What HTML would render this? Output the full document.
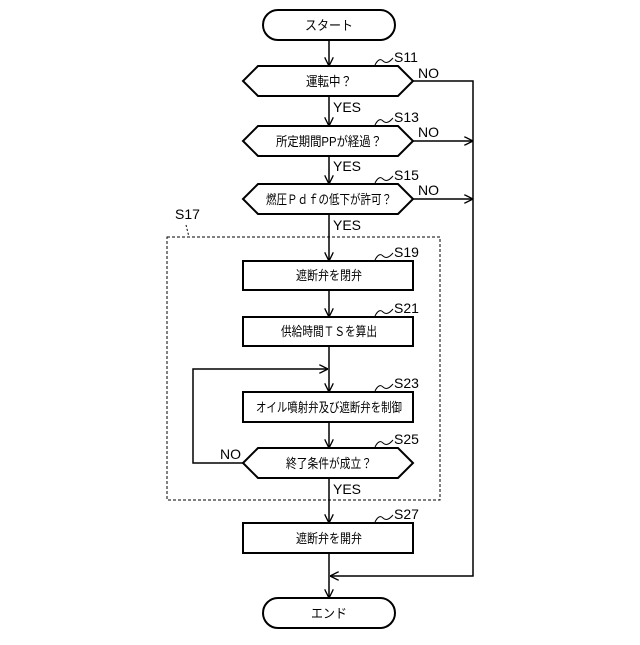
<!DOCTYPE html>
<html><head><meta charset="utf-8"><style>html,body{margin:0;padding:0;background:#fff}</style></head>
<body>
<svg width="640" height="640" viewBox="0 0 640 640" xmlns="http://www.w3.org/2000/svg" font-family="'Liberation Sans','Noto Sans CJK JP',sans-serif">
<defs>
<marker id="a" viewBox="0 0 10 10" refX="10" refY="5" markerWidth="9" markerHeight="9" markerUnits="userSpaceOnUse" orient="auto"><path d="M0,0 L10,5 L0,10" fill="none" stroke="#000" stroke-width="1.5"/></marker>
</defs>
<g stroke="#000" stroke-width="2" fill="none">
<rect x="263" y="10" width="132" height="30" rx="15"/>
<rect x="263" y="598" width="132" height="30" rx="15"/>
<path d="M258,66 H398 L413,81 L398,96 H258 L243,81 Z"/>
<path d="M258,126 H398 L413,141 L398,156 H258 L243,141 Z"/>
<path d="M258,184 H398 L413,199 L398,214 H258 L243,199 Z"/>
<path d="M258,448 H398 L413,463 L398,478 H258 L243,463 Z"/>
<rect x="243" y="261" width="170" height="29"/>
<rect x="243" y="317" width="170" height="29"/>
<rect x="243" y="392" width="170" height="30"/>
<rect x="243" y="523" width="170" height="30"/>
</g>
<g stroke="#000" stroke-width="1.5" fill="none">
<line x1="329" y1="40" x2="329" y2="66" marker-end="url(#a)"/>
<line x1="329" y1="96" x2="329" y2="126" marker-end="url(#a)"/>
<line x1="329" y1="156" x2="329" y2="184" marker-end="url(#a)"/>
<line x1="329" y1="214" x2="329" y2="261" marker-end="url(#a)"/>
<line x1="329" y1="290" x2="329" y2="317" marker-end="url(#a)"/>
<line x1="329" y1="346" x2="329" y2="392" marker-end="url(#a)"/>
<line x1="329" y1="422" x2="329" y2="448" marker-end="url(#a)"/>
<line x1="329" y1="478" x2="329" y2="523" marker-end="url(#a)"/>
<line x1="329" y1="553" x2="329" y2="598" marker-end="url(#a)"/>
<polyline points="413,81 473,81 473,576 330,576" marker-end="url(#a)"/>
<line x1="413" y1="141" x2="473" y2="141" marker-end="url(#a)"/>
<line x1="413" y1="199" x2="473" y2="199" marker-end="url(#a)"/>
<polyline points="243,463 193,463 193,369 328,369" marker-end="url(#a)"/>
<rect x="167" y="237" width="273" height="263" stroke-dasharray="3,2" stroke-width="1"/>
<line x1="186" y1="225" x2="189" y2="237" stroke-dasharray="2,2" stroke-width="1"/>
<path d="M375,65 q4,-8 8,-4 q4,4 10,-3" stroke-width="1"/>
<path d="M375,125 q4,-8 8,-4 q4,4 10,-3" stroke-width="1"/>
<path d="M375,183 q4,-8 8,-4 q4,4 10,-3" stroke-width="1"/>
<path d="M375,260 q4,-8 8,-4 q4,4 10,-3" stroke-width="1"/>
<path d="M375,316 q4,-8 8,-4 q4,4 10,-3" stroke-width="1"/>
<path d="M375,391 q4,-8 8,-4 q4,4 10,-3" stroke-width="1"/>
<path d="M375,447 q4,-8 8,-4 q4,4 10,-3" stroke-width="1"/>
<path d="M375,522 q4,-8 8,-4 q4,4 10,-3" stroke-width="1"/>
</g>
<g font-size="13" fill="#000" text-anchor="middle" lengthAdjust="spacingAndGlyphs">
<text x="329" y="30" textLength="48" lengthAdjust="spacingAndGlyphs">スタート</text>
<text x="329" y="618" textLength="36" lengthAdjust="spacingAndGlyphs">エンド</text>
<text x="329" y="86" textLength="46" lengthAdjust="spacingAndGlyphs">運転中？</text>
<text x="329" y="146" textLength="106" lengthAdjust="spacingAndGlyphs">所定期間PPが経過？</text>
<text x="329" y="204" textLength="126" lengthAdjust="spacingAndGlyphs">燃圧Ｐｄｆの低下が許可？</text>
<text x="329" y="280" textLength="66" lengthAdjust="spacingAndGlyphs">遮断弁を閉弁</text>
<text x="329" y="336" textLength="96" lengthAdjust="spacingAndGlyphs">供給時間ＴＳを算出</text>
<text x="329" y="412" textLength="146" lengthAdjust="spacingAndGlyphs">オイル噴射弁及び遮断弁を制御</text>
<text x="329" y="468" textLength="86" lengthAdjust="spacingAndGlyphs">終了条件が成立？</text>
<text x="329" y="543" textLength="66" lengthAdjust="spacingAndGlyphs">遮断弁を開弁</text>
</g>
<g font-size="14" fill="#000">
<text x="394" y="62">S11</text>
<text x="394" y="122">S13</text>
<text x="394" y="180">S15</text>
<text x="394" y="257">S19</text>
<text x="394" y="313">S21</text>
<text x="394" y="388">S23</text>
<text x="394" y="444">S25</text>
<text x="394" y="519">S27</text>
<text x="175" y="219">S17</text>
<text x="418" y="78">NO</text>
<text x="418" y="137">NO</text>
<text x="418" y="195">NO</text>
<text x="220" y="459">NO</text>
<text x="333" y="112">YES</text>
<text x="333" y="171">YES</text>
<text x="333" y="230">YES</text>
<text x="333" y="494">YES</text>
</g>
</svg>
</body></html>
